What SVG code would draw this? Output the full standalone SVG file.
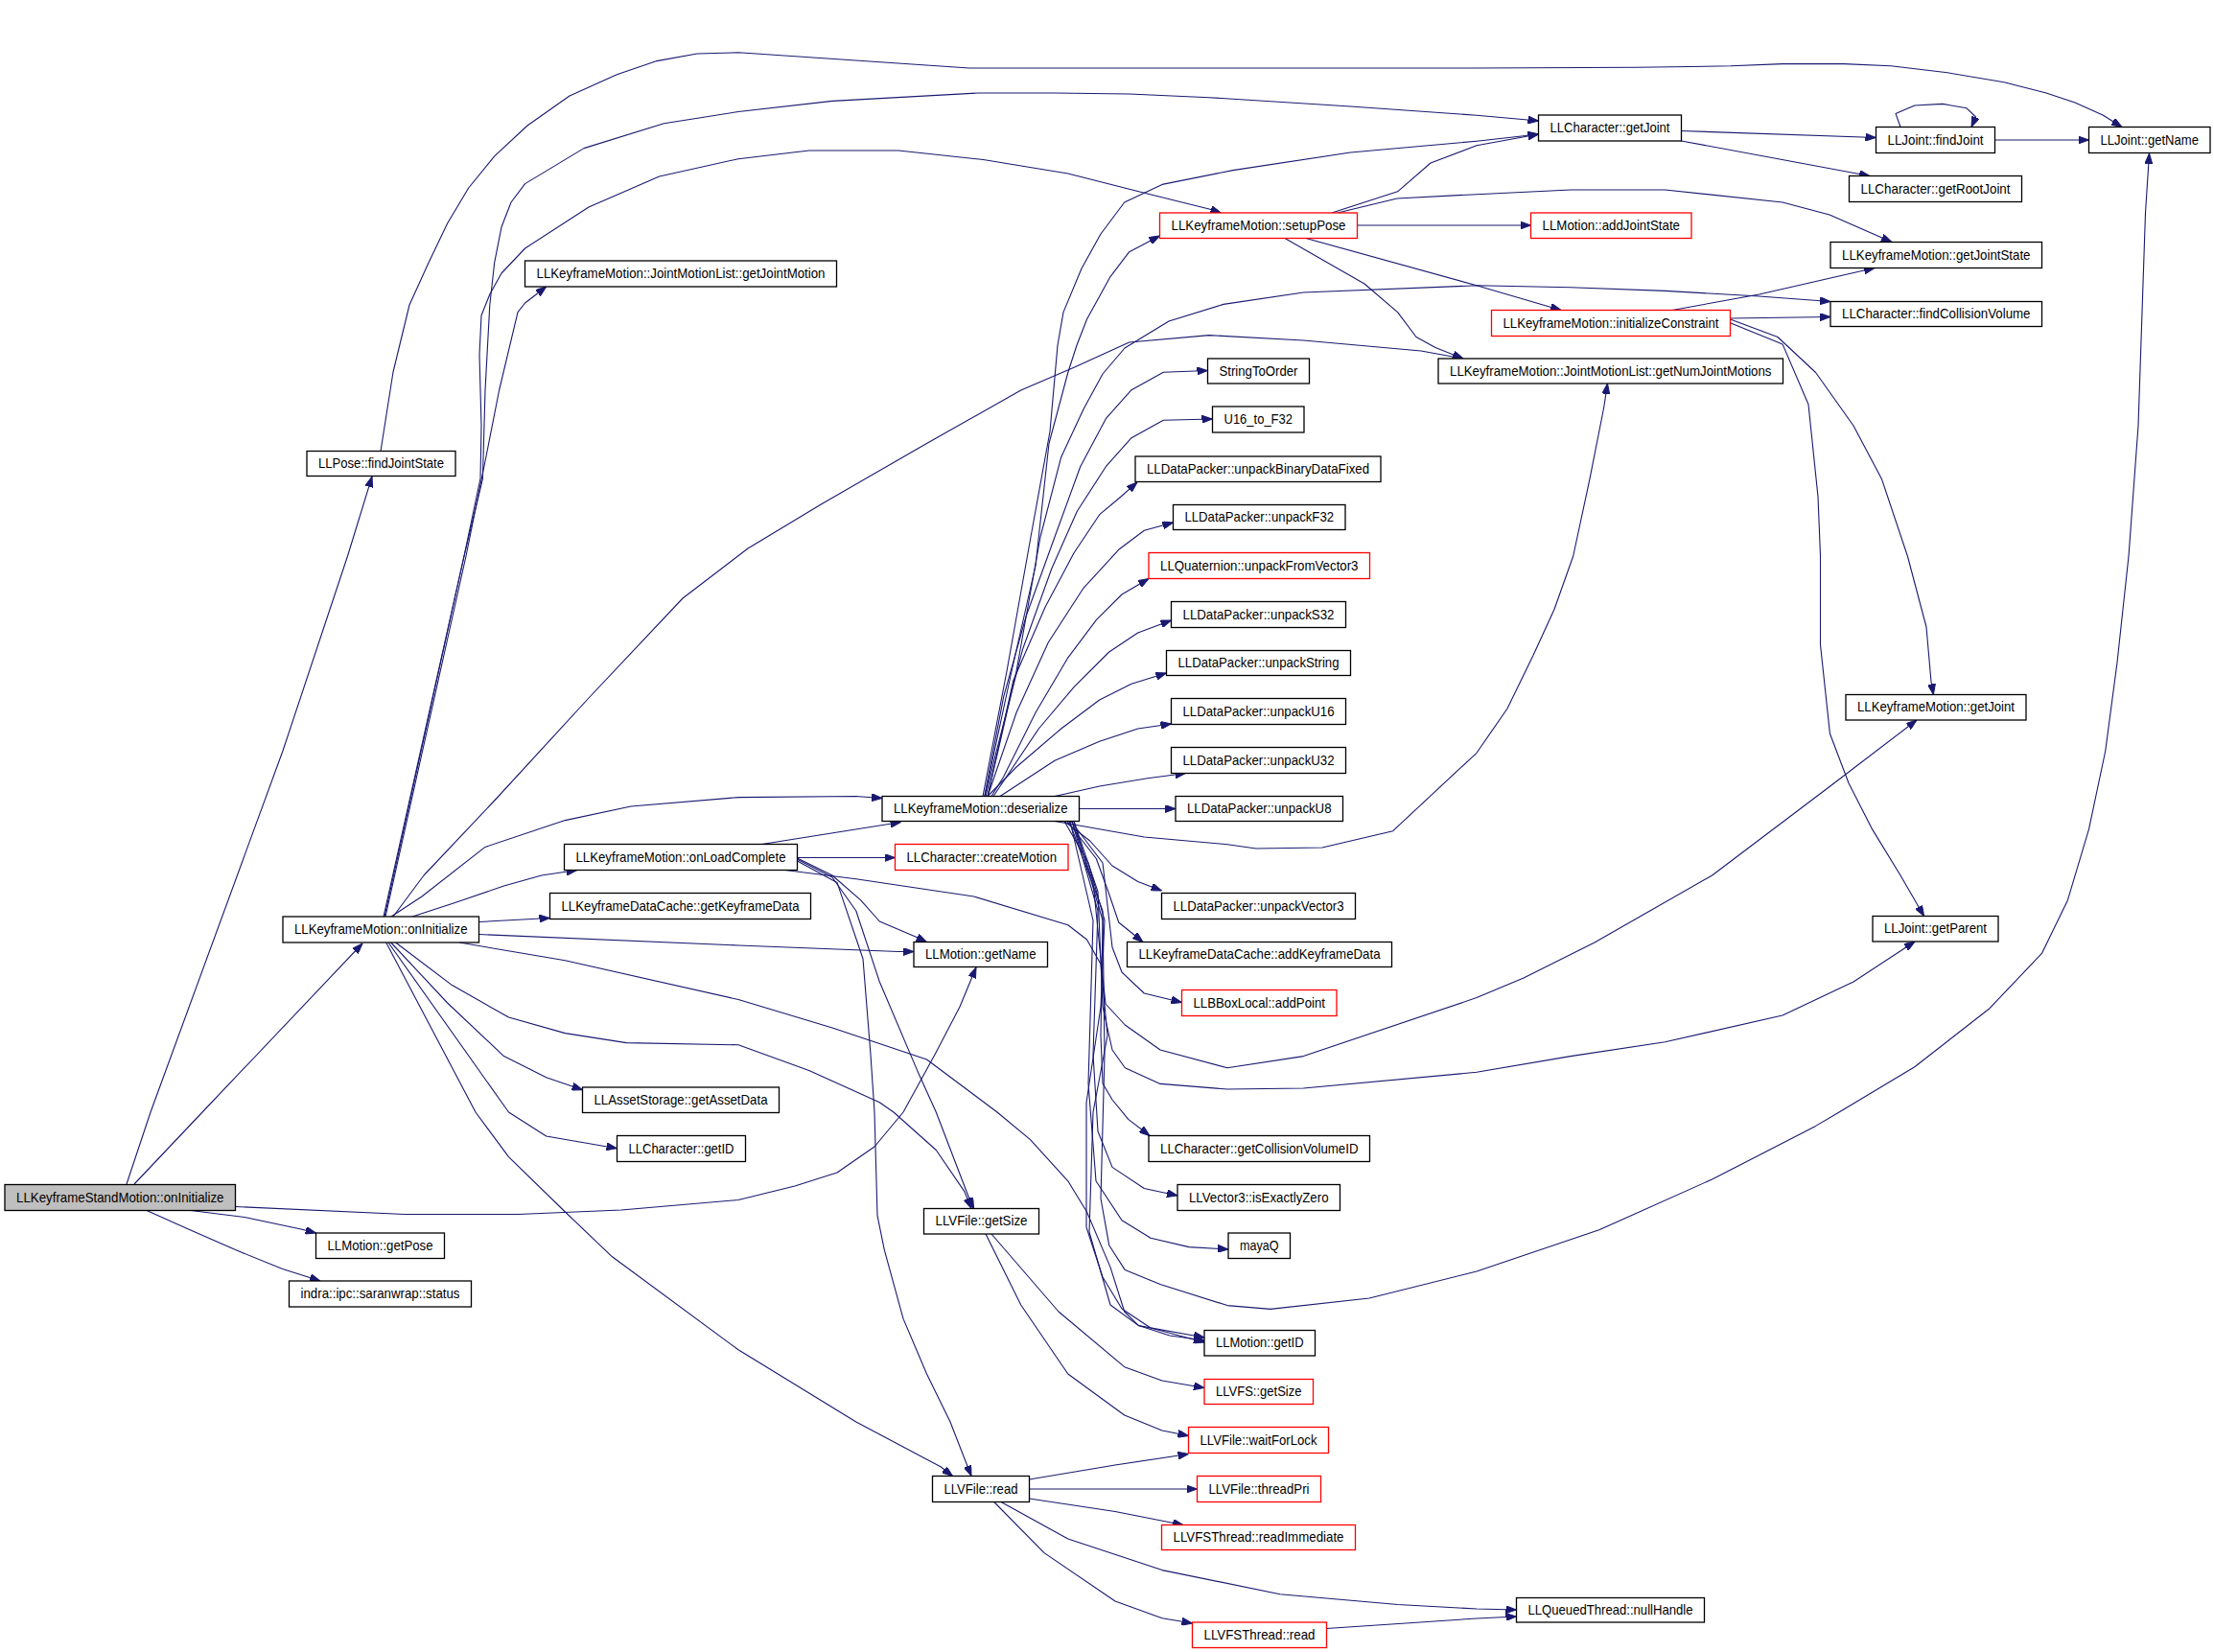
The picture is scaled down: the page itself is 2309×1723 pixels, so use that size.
<svg xmlns="http://www.w3.org/2000/svg" width="2309" height="1723" viewBox="0 0 2309 1723">
<defs>
<marker id="a" markerWidth="11" markerHeight="8" refX="11" refY="4" orient="auto" markerUnits="userSpaceOnUse"><path d="M0,0 L11,4 L0,8 z" fill="#191970" stroke="#191970" stroke-width="1"/></marker>
<style>
.e path{fill:none;stroke:#191970;stroke-width:1.1;stroke-linejoin:round;marker-end:url(#a)}
.n rect{fill:#fff;stroke:#000;stroke-width:1.3}
.r rect{stroke:#f00}
.g rect{fill:#bfbfbf}
text{font-family:"Liberation Sans",Arial,sans-serif;font-size:15px;text-anchor:middle;fill:#000}
</style>
</defs>
<rect width="2309" height="1723" fill="#fff"/>
<g id="edges" class="e">
<path d="M132,1235 L157,1160 L295,783 L362.5,580 L388,497"/>
<path d="M140,1235 L211,1160 L378,984"/>
<path d="M245.5,1258.5 L422,1266.5 L540,1266.5 L648,1262 L770,1251.5 L829,1237 L873,1223 L912,1196 L942,1160 L976,1098 L1001,1050 L1018,1009"/>
<path d="M199,1262.5 L255,1269.5 L314,1282 L329.5,1286"/>
<path d="M153,1262.5 L196.5,1282 L245.6,1303.6 L294.7,1323.4 L334,1336"/>
<path d="M397,470.5 L410,388 L427,318 L447,274 L466.6,233 L488.7,196 L515.7,162.8 L550,131 L594,100 L643.4,77.7 L685,63.6 L727,56 L770,54.8 L1010.7,71 L1540,71 L1707,70.3 L1805,68.8 L1859,66.6 L1923,66.6 L1972,68.8 L2031,75.8 L2090,85.8 L2134,97 L2164,107 L2193,120 L2213,132.5"/>
<path d="M401,956 L484,580 L503.4,499.4 L506,407 L510.8,318 L515.7,273.8 L523,236.8 L533,211 L547.6,191.6 L609,154.6 L692.5,128.7 L770,116.5 L868,105.4 L1020.5,97 L1099,97 L1177.7,98 L1261,101.7 L1408.5,111 L1540,120.2 L1604.5,126"/>
<path d="M400,956 L484,580 L501,499 L502,444 L500,370 L502,329 L510.8,307 L523,285 L547.6,259 L614,216 L687.6,184 L770,165.7 L843.7,157 L937,157 L1025.4,166.5 L1113.8,181 L1187.5,199.8 L1261,218 L1273.5,222"/>
<path d="M402,956 L486,580 L506,481 L520.6,407 L540,325.6 L547.6,316 L569.7,299"/>
<path d="M410,956 L442,913 L515.7,835 L614,728 L712,624 L780,572 L858,525 L966.5,462.5 L1064.7,407 L1120,383.3 L1177.7,357 L1261,349.6 L1359.4,355 L1482,366 L1526,374"/>
<path d="M408,956 L440,935 L506,883.4 L589.4,855.6 L658,841 L770,831.6 L892.8,830.5 L920,832.5"/>
<path d="M430,956 L471.5,942.6 L525.5,924 L564.8,913 L601.7,907.5"/>
<path d="M499.5,961.5 L573.5,957.5"/>
<path d="M499.5,974.5 L770,986 L937,992.5 L953,992.5"/>
<path d="M479,983 L589.4,1001.8 L770,1042.5 L868,1072 L966.5,1105 L1040,1160 L1074.5,1188.7 L1113.8,1231.8 L1133.5,1264 L1158,1321.6 L1172.7,1368 L1187.5,1382.6 L1220,1393 L1256,1398"/>
<path d="M412.6,983 L471.5,1027.6 L530.5,1061 L589.4,1077.6 L653.3,1087.6 L770,1089.8 L843.7,1116.4 L917.3,1149.7 L932,1160 L976.3,1199.5 L1005.8,1242.6 L1013,1260.5"/>
<path d="M407.7,983 L466.6,1046 L525.5,1101.6 L569.7,1123.8 L607.6,1136.8"/>
<path d="M402.7,983 L496,1160 L530.5,1206.7 L589.4,1264 L638.5,1310.8 L770,1407.8 L892.8,1483 L981,1529.8 L993.5,1539.5"/>
<path d="M405,983 L530.5,1160 L569.7,1185 L643.5,1197.7"/>
<path d="M794.6,880.5 L939.5,857.5"/>
<path d="M831.5,894.5 L933.5,894.5"/>
<path d="M831.5,895 L868,913 L897.7,938.9 L917.3,961 L956.6,977.7 L966.5,982.5"/>
<path d="M831.5,896.3 L868,915 L892.8,950 L917.3,1024 L956.6,1116.4 L976.3,1160 L1010.7,1249.8 L1015.6,1260.5"/>
<path d="M831.5,898 L873,920.4 L900,1000 L908,1100 L912,1160 L915,1267.7 L922.3,1303.6 L942,1375.4 L966.5,1433 L991,1483 L1013,1539.5"/>
<path d="M819,907.5 L892.8,916.7 L1015.6,935 L1113.8,964.8 L1133.5,980 L1148,1005.5 L1155,1080 L1140,1160 L1136,1285 L1158,1361 L1187.5,1382.6 L1256,1395"/>
<path d="M1025,830.5 L1050,700 L1075,560 L1095,450 L1103,360 L1109,325.6 L1128,280 L1148,244 L1172.7,211 L1212,192.4 L1285.7,177.6 L1408.5,159 L1540,147.2 L1604.5,140"/>
<path d="M1027,830.5 L1055,700 L1080,590 L1094,462.5 L1113.8,388.5 L1123,360 L1133.5,333 L1158,288.6 L1177.7,262.7 L1209.5,246"/>
<path d="M1030,830.5 L1060,700 L1085,560 L1106.7,476.7 L1130,426.7 L1150,390 L1173,363 L1219,335 L1276,317.4 L1359.4,305 L1540,297.8 L1638,299.7 L1736.5,303.4 L1834.7,309 L1909,314.5"/>
<path d="M1026.7,830.5 L1046.7,726.7 L1070,643 L1100,560 L1126.7,486.7 L1153.3,436.7 L1180,406.7 L1213.3,388.3 L1259.5,386.5"/>
<path d="M1028,830.5 L1036.7,793.3 L1066.7,676.7 L1096.7,593.3 L1123.3,533.3 L1153.3,486.7 L1180,456.7 L1213.3,438.3 L1264.5,437"/>
<path d="M1030,830.5 L1056.7,710 L1090,633.3 L1120,576.7 L1146.7,536.7 L1166.7,520 L1186,503"/>
<path d="M1030,830.5 L1060,743.3 L1093.3,670 L1130,613.3 L1166.7,573.3 L1193.3,553.3 L1223.5,545"/>
<path d="M1034,830.5 L1046.7,810 L1080,743.3 L1113.3,686.7 L1143.3,646.7 L1170,620 L1198,603.5"/>
<path d="M1036,830.5 L1083.3,760 L1120,716.7 L1156.7,680 L1186.7,660 L1221.5,647"/>
<path d="M1030,830.5 L1060,800 L1106.7,760 L1146.7,730 L1180,713.3 L1216.5,702"/>
<path d="M1043,830.5 L1100,793.3 L1146.7,773.3 L1186.7,760 L1221.5,755"/>
<path d="M1100,830.5 L1146.7,820 L1196.7,811.7 L1236.5,806.5"/>
<path d="M1125.5,843.5 L1226,843.5"/>
<path d="M1110,856.5 L1136.7,877 L1160,903 L1186.7,919.5 L1211.5,929"/>
<path d="M1113,856.5 L1143.3,895.5 L1156.7,932.5 L1166.7,962 L1192,982.5"/>
<path d="M1117,856.5 L1150,900 L1160,988 L1170,1014 L1193.3,1036 L1232.5,1045.5"/>
<path d="M1100,856.5 L1193.3,873 L1280,880.7 L1310,885 L1379,884 L1452.7,866.7 L1540,785.3 L1572,739 L1599,683.6 L1621,635.5 L1640.7,580 L1658,499.4 L1672.6,425.5 L1676.5,400"/>
<path d="M1118,856.5 L1140,920 L1148,1000 L1153,1047 L1173.3,1069 L1210,1095 L1280,1113.8 L1359.4,1101.6 L1540,1040.6 L1589,1020 L1663,983 L1785.6,913 L1908,820.5 L1999,751"/>
<path d="M1120,856.5 L1145,930 L1150,1050 L1160,1095 L1173.3,1113.8 L1210,1130.4 L1280,1136 L1359.4,1135 L1540,1118.3 L1638,1101.6 L1736.5,1086.8 L1859,1059 L1933,1024 L1997,982"/>
<path d="M1120,856.5 L1150,960 L1148,1080 L1150,1130 L1160,1147 L1176.7,1167.4 L1199,1184.5"/>
<path d="M1118,856.5 L1145,950 L1140,1100 L1145,1180 L1160,1217.4 L1193.3,1239.5 L1228,1247"/>
<path d="M1116,856.5 L1140,960 L1135,1130 L1143,1231.8 L1170,1272.8 L1200,1291.3 L1240,1300.6 L1281,1303"/>
<path d="M1115,856.5 L1150,950 L1152,1100 L1148,1250 L1156.7,1298.7 L1173.3,1324.6 L1210,1339.4 L1280,1361.6 L1325,1365.4 L1428,1354 L1540,1326 L1667.7,1282.8 L1785.6,1230 L1893.6,1174.4 L1918,1160 L1996.8,1112.7 L2075,1051.7 L2129.4,994.4 L2156.4,938.9 L2178.5,864.9 L2195.7,783.5 L2208,691 L2220,580 L2230,444 L2237.5,222 L2241.5,160"/>
<path d="M1110,856.5 L1135,900 L1152,960 L1148,1050 L1133,1150 L1133,1280 L1150,1332 L1170,1365 L1200,1385 L1256,1400"/>
<path d="M1389,222 L1457.6,199.8 L1492,170 L1540,151.7 L1604.5,140"/>
<path d="M1395,222 L1457,207 L1540,202.7 L1638,198 L1736.5,198 L1859,211 L1908,224 L1940,238 L1973,252.5"/>
<path d="M1415.5,235 L1596.5,235"/>
<path d="M1362,248.5 L1540,297.8 L1628,323.5"/>
<path d="M1340,248.5 L1423,296 L1457.6,325.6 L1477,351.5 L1497,362.6 L1526,374"/>
<path d="M1753.5,136.5 L1956.5,143.5"/>
<path d="M1753.5,147 L1950,183.5"/>
<path d="M1982,132.5 L1977,118.4 L1996.8,110 L2026,108.4 L2051,112.8 L2060.6,122 L2056,132.5"/>
<path d="M2080.5,146 L2178.5,146"/>
<path d="M1744,323.5 L1834.7,307 L1955,279.5"/>
<path d="M1804.5,332 L1909,330.5"/>
<path d="M1804.5,333 L1854,351.5 L1893.6,388.5 L1933,444 L1962.4,499.4 L1989.4,580 L2009,654 L2014,711 L2016.4,724.5"/>
<path d="M1804.5,336.7 L1859,358.9 L1886,421.8 L1896,518 L1898.5,580 L1898.5,672.5 L1908.4,765 L1928,816.8 L1952.6,864.9 L1982,913 L2006.6,955.5"/>
<path d="M1034,1287 L1104,1368 L1172.7,1425.7 L1212,1440 L1256,1447.5"/>
<path d="M1028,1287 L1064.7,1361 L1113.8,1433 L1172.7,1476 L1212,1492 L1239.5,1497.5"/>
<path d="M1073.5,1543 L1163,1528 L1239.5,1516.5"/>
<path d="M1073.5,1553 L1248.5,1553"/>
<path d="M1073.5,1563 L1163,1576.5 L1234,1590.5"/>
<path d="M1044,1566.5 L1113.8,1605 L1212,1637.6 L1335,1662.7 L1457.6,1673.5 L1540,1678 L1581.5,1679"/>
<path d="M1036.7,1566.5 L1089,1619.6 L1163,1670 L1212,1687.8 L1243.5,1693"/>
<path d="M1383.5,1698.5 L1540,1688 L1581.5,1686"/>
</g>
<g id="n1" class="n g"><rect x="5" y="1235.5" width="240.5" height="27"/><text x="125.25" y="1253.5" textLength="216.5" lengthAdjust="spacingAndGlyphs">LLKeyframeStandMotion::onInitialize</text></g>
<g id="n2" class="n"><rect x="320" y="470.5" width="155" height="26"/><text x="397.5" y="488" textLength="131" lengthAdjust="spacingAndGlyphs">LLPose::findJointState</text></g>
<g id="n3" class="n"><rect x="295" y="956" width="204.5" height="27"/><text x="397.25" y="974" textLength="180.5" lengthAdjust="spacingAndGlyphs">LLKeyframeMotion::onInitialize</text></g>
<g id="n4" class="n"><rect x="329.5" y="1286" width="134" height="26.5"/><text x="396.5" y="1303.75" textLength="110" lengthAdjust="spacingAndGlyphs">LLMotion::getPose</text></g>
<g id="n5" class="n"><rect x="301.5" y="1336" width="190" height="27"/><text x="396.5" y="1354" textLength="166" lengthAdjust="spacingAndGlyphs">indra::ipc::saranwrap::status</text></g>
<g id="n6" class="n"><rect x="547.5" y="272" width="325" height="27"/><text x="710" y="290" textLength="301" lengthAdjust="spacingAndGlyphs">LLKeyframeMotion::JointMotionList::getJointMotion</text></g>
<g id="n7" class="n"><rect x="588.5" y="880.5" width="243" height="27"/><text x="710" y="898.5" textLength="219" lengthAdjust="spacingAndGlyphs">LLKeyframeMotion::onLoadComplete</text></g>
<g id="n8" class="n"><rect x="573.5" y="931.5" width="272" height="27"/><text x="709.5" y="949.5" textLength="248" lengthAdjust="spacingAndGlyphs">LLKeyframeDataCache::getKeyframeData</text></g>
<g id="n9" class="n"><rect x="607.5" y="1134" width="205" height="26.5"/><text x="710" y="1151.75" textLength="181" lengthAdjust="spacingAndGlyphs">LLAssetStorage::getAssetData</text></g>
<g id="n10" class="n"><rect x="643.5" y="1184.5" width="134" height="27"/><text x="710.5" y="1202.5" textLength="110" lengthAdjust="spacingAndGlyphs">LLCharacter::getID</text></g>
<g id="n11" class="n r"><rect x="1209.5" y="222" width="206" height="26.5"/><text x="1312.5" y="239.75" textLength="182" lengthAdjust="spacingAndGlyphs">LLKeyframeMotion::setupPose</text></g>
<g id="n12" class="n"><rect x="920" y="830.5" width="205.5" height="26"/><text x="1022.75" y="848" textLength="181.5" lengthAdjust="spacingAndGlyphs">LLKeyframeMotion::deserialize</text></g>
<g id="n13" class="n r"><rect x="933.5" y="880.5" width="180.5" height="27"/><text x="1023.75" y="898.5" textLength="156.5" lengthAdjust="spacingAndGlyphs">LLCharacter::createMotion</text></g>
<g id="n14" class="n"><rect x="953" y="982.5" width="139.5" height="26"/><text x="1022.75" y="1000" textLength="115.5" lengthAdjust="spacingAndGlyphs">LLMotion::getName</text></g>
<g id="n15" class="n"><rect x="963.5" y="1260.5" width="120" height="26.5"/><text x="1023.5" y="1278.25" textLength="96" lengthAdjust="spacingAndGlyphs">LLVFile::getSize</text></g>
<g id="n16" class="n"><rect x="972.5" y="1539.5" width="101" height="27"/><text x="1023" y="1557.5" textLength="77" lengthAdjust="spacingAndGlyphs">LLVFile::read</text></g>
<g id="n17" class="n"><rect x="1259.5" y="374" width="106" height="26"/><text x="1312.5" y="391.5" textLength="82" lengthAdjust="spacingAndGlyphs">StringToOrder</text></g>
<g id="n18" class="n"><rect x="1264.5" y="424" width="95.5" height="27"/><text x="1312.25" y="442" textLength="71.5" lengthAdjust="spacingAndGlyphs">U16_to_F32</text></g>
<g id="n19" class="n"><rect x="1184" y="476" width="256" height="26.5"/><text x="1312" y="493.75" textLength="232" lengthAdjust="spacingAndGlyphs">LLDataPacker::unpackBinaryDataFixed</text></g>
<g id="n20" class="n"><rect x="1223.5" y="526.5" width="179.5" height="26"/><text x="1313.25" y="544" textLength="155.5" lengthAdjust="spacingAndGlyphs">LLDataPacker::unpackF32</text></g>
<g id="n21" class="n r"><rect x="1198" y="576.5" width="230.5" height="27"/><text x="1313.25" y="594.5" textLength="206.5" lengthAdjust="spacingAndGlyphs">LLQuaternion::unpackFromVector3</text></g>
<g id="n22" class="n"><rect x="1221.5" y="627.5" width="182" height="27"/><text x="1312.5" y="645.5" textLength="158" lengthAdjust="spacingAndGlyphs">LLDataPacker::unpackS32</text></g>
<g id="n23" class="n"><rect x="1216.5" y="678.5" width="192" height="26"/><text x="1312.5" y="696" textLength="168" lengthAdjust="spacingAndGlyphs">LLDataPacker::unpackString</text></g>
<g id="n24" class="n"><rect x="1221.5" y="728.5" width="182" height="27"/><text x="1312.5" y="746.5" textLength="158" lengthAdjust="spacingAndGlyphs">LLDataPacker::unpackU16</text></g>
<g id="n25" class="n"><rect x="1221.5" y="779.5" width="182" height="27"/><text x="1312.5" y="797.5" textLength="158" lengthAdjust="spacingAndGlyphs">LLDataPacker::unpackU32</text></g>
<g id="n26" class="n"><rect x="1226" y="830.5" width="174.5" height="26"/><text x="1313.25" y="848" textLength="150.5" lengthAdjust="spacingAndGlyphs">LLDataPacker::unpackU8</text></g>
<g id="n27" class="n"><rect x="1211.5" y="931.5" width="202" height="27"/><text x="1312.5" y="949.5" textLength="178" lengthAdjust="spacingAndGlyphs">LLDataPacker::unpackVector3</text></g>
<g id="n28" class="n"><rect x="1175.5" y="982.5" width="276" height="26"/><text x="1313.5" y="1000" textLength="252" lengthAdjust="spacingAndGlyphs">LLKeyframeDataCache::addKeyframeData</text></g>
<g id="n29" class="n r"><rect x="1232.5" y="1032.5" width="161.5" height="27"/><text x="1313.25" y="1050.5" textLength="137.5" lengthAdjust="spacingAndGlyphs">LLBBoxLocal::addPoint</text></g>
<g id="n30" class="n"><rect x="1198" y="1184.5" width="230.5" height="27"/><text x="1313.25" y="1202.5" textLength="206.5" lengthAdjust="spacingAndGlyphs">LLCharacter::getCollisionVolumeID</text></g>
<g id="n31" class="n"><rect x="1228" y="1235.5" width="169.5" height="27"/><text x="1312.75" y="1253.5" textLength="145.5" lengthAdjust="spacingAndGlyphs">LLVector3::isExactlyZero</text></g>
<g id="n32" class="n"><rect x="1281" y="1286" width="64.5" height="26.5"/><text x="1313.25" y="1303.75" textLength="40.5" lengthAdjust="spacingAndGlyphs">mayaQ</text></g>
<g id="n33" class="n"><rect x="1256" y="1387.5" width="115.5" height="26.5"/><text x="1313.75" y="1405.25" textLength="91.5" lengthAdjust="spacingAndGlyphs">LLMotion::getID</text></g>
<g id="n34" class="n r"><rect x="1256" y="1438.5" width="113.5" height="26"/><text x="1312.75" y="1456" textLength="89.5" lengthAdjust="spacingAndGlyphs">LLVFS::getSize</text></g>
<g id="n35" class="n r"><rect x="1239.5" y="1488.5" width="146" height="27"/><text x="1312.5" y="1506.5" textLength="122" lengthAdjust="spacingAndGlyphs">LLVFile::waitForLock</text></g>
<g id="n36" class="n r"><rect x="1248.5" y="1539.5" width="129" height="27"/><text x="1313" y="1557.5" textLength="105" lengthAdjust="spacingAndGlyphs">LLVFile::threadPri</text></g>
<g id="n37" class="n r"><rect x="1211.5" y="1590.5" width="202" height="26"/><text x="1312.5" y="1608" textLength="178" lengthAdjust="spacingAndGlyphs">LLVFSThread::readImmediate</text></g>
<g id="n38" class="n r"><rect x="1243.5" y="1692" width="140" height="26.5"/><text x="1313.5" y="1709.75" textLength="116" lengthAdjust="spacingAndGlyphs">LLVFSThread::read</text></g>
<g id="n39" class="n"><rect x="1604.5" y="120" width="149" height="27"/><text x="1679" y="138" textLength="125" lengthAdjust="spacingAndGlyphs">LLCharacter::getJoint</text></g>
<g id="n40" class="n r"><rect x="1596.5" y="222" width="167.5" height="26.5"/><text x="1680.25" y="239.75" textLength="143.5" lengthAdjust="spacingAndGlyphs">LLMotion::addJointState</text></g>
<g id="n41" class="n r"><rect x="1555.5" y="323.5" width="249" height="27"/><text x="1680" y="341.5" textLength="225" lengthAdjust="spacingAndGlyphs">LLKeyframeMotion::initializeConstraint</text></g>
<g id="n42" class="n"><rect x="1500" y="374" width="359.5" height="26"/><text x="1679.75" y="391.5" textLength="335.5" lengthAdjust="spacingAndGlyphs">LLKeyframeMotion::JointMotionList::getNumJointMotions</text></g>
<g id="n43" class="n"><rect x="1581.5" y="1666.5" width="196" height="25.5"/><text x="1679.5" y="1683.75" textLength="172" lengthAdjust="spacingAndGlyphs">LLQueuedThread::nullHandle</text></g>
<g id="n44" class="n"><rect x="1956.5" y="132.5" width="124" height="27"/><text x="2018.5" y="150.5" textLength="100" lengthAdjust="spacingAndGlyphs">LLJoint::findJoint</text></g>
<g id="n45" class="n"><rect x="1928.5" y="183.5" width="180" height="27"/><text x="2018.5" y="201.5" textLength="156" lengthAdjust="spacingAndGlyphs">LLCharacter::getRootJoint</text></g>
<g id="n46" class="n"><rect x="1909" y="252.5" width="220.5" height="27"/><text x="2019.25" y="270.5" textLength="196.5" lengthAdjust="spacingAndGlyphs">LLKeyframeMotion::getJointState</text></g>
<g id="n47" class="n"><rect x="1909" y="314.5" width="220.5" height="26"/><text x="2019.25" y="332" textLength="196.5" lengthAdjust="spacingAndGlyphs">LLCharacter::findCollisionVolume</text></g>
<g id="n48" class="n"><rect x="1925" y="724.5" width="188" height="26.5"/><text x="2019" y="742.25" textLength="164" lengthAdjust="spacingAndGlyphs">LLKeyframeMotion::getJoint</text></g>
<g id="n49" class="n"><rect x="1953" y="955.5" width="131" height="26.5"/><text x="2018.5" y="973.25" textLength="107" lengthAdjust="spacingAndGlyphs">LLJoint::getParent</text></g>
<g id="n50" class="n"><rect x="2178.5" y="132.5" width="126.5" height="27"/><text x="2241.75" y="150.5" textLength="102.5" lengthAdjust="spacingAndGlyphs">LLJoint::getName</text></g>
</svg>
